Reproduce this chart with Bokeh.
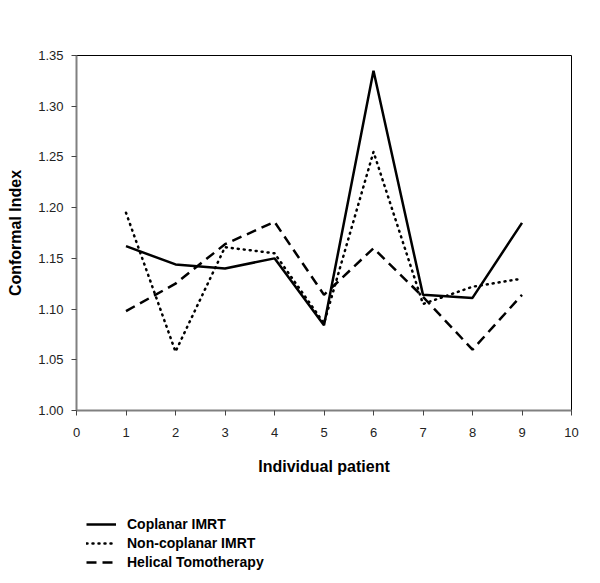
from bokeh.plotting import figure
from bokeh.layouts import column
from bokeh.models import Legend, LegendItem, Range1d, FixedTicker, CustomJSTickFormatter
from bokeh.embed import file_html
from bokeh.resources import INLINE

patients = [1, 2, 3, 4, 5, 6, 7, 8, 9]
coplanar = [1.162, 1.144, 1.140, 1.150, 1.084, 1.335, 1.114, 1.111, 1.185]
noncoplanar = [1.195, 1.058, 1.161, 1.155, 1.086, 1.255, 1.105, 1.122, 1.130]
helical = [1.098, 1.125, 1.164, 1.186, 1.114, 1.160, 1.112, 1.060, 1.114]
series_names = ["Coplanar IMRT", "Non-coplanar IMRT", "Helical Tomotherapy"]
x_ticks = [0, 1, 2, 3, 4, 5, 6, 7, 8, 9, 10]
y_ticks = [1.00, 1.05, 1.10, 1.15, 1.20, 1.25, 1.30, 1.35]

FONT = "Liberation Sans"
STYLES = [dict(line_color="black", line_width=2.5),
          dict(line_color="black", line_width=2.5, line_dash="1 5", line_cap="round"),
          dict(line_color="black", line_width=2.5, line_dash="10 6")]

p = figure(width=592, height=478, output_backend="svg", toolbar_location=None,
           x_range=Range1d(0, 10), y_range=Range1d(1.0, 1.35),
           min_border_left=76, min_border_top=55, min_border_right=21,
           min_border_bottom=68)

p.xgrid.visible = False
p.ygrid.visible = False
p.outline_line_color = "black"
p.outline_line_width = 1

for ax in (p.xaxis[0], p.yaxis[0]):
    ax.axis_line_color = "#808080"
    ax.axis_line_width = 2
    ax.major_tick_line_color = "#444444"
    ax.major_tick_out = 5
    ax.major_tick_in = 0
    ax.minor_tick_line_color = None
    ax.major_label_text_font = FONT
    ax.major_label_text_font_size = "13px"
    ax.major_label_text_color = "#222222"
    ax.axis_label_text_font = FONT
    ax.axis_label_text_font_size = "16px"
    ax.axis_label_text_font_style = "bold"
    ax.axis_label_text_color = "black"

p.xaxis.ticker = FixedTicker(ticks=x_ticks)
p.yaxis.ticker = FixedTicker(ticks=y_ticks)
p.yaxis.formatter = CustomJSTickFormatter(code="return tick.toFixed(2);")
p.xaxis.axis_label = "Individual patient"
p.yaxis.axis_label = "Conformal Index"
p.xaxis.major_label_standoff = 12
p.xaxis.axis_label_standoff = 18
p.yaxis.major_label_standoff = 8
p.yaxis.axis_label_standoff = 11

for ys, st in zip([coplanar, noncoplanar, helical], STYLES):
    p.line(patients, ys, **st)

# legend panel below the chart
lg = figure(width=592, height=97, output_backend="svg", toolbar_location=None,
            x_range=Range1d(0, 1), y_range=Range1d(0, 1),
            x_axis_location=None, y_axis_location=None,
            min_border_left=0, min_border_right=0, min_border_top=0, min_border_bottom=0)
lg.outline_line_color = None
lg.xgrid.visible = False
lg.ygrid.visible = False
items = []
for name, st in zip(series_names, STYLES):
    # placeholder renderer outside the visible range, only used for the legend glyph
    r = lg.line(x=[-5, -4], y=[-5, -4], **st)
    items.append(LegendItem(label=name, renderers=[r]))

legend = Legend(items=items, location=(10, 4))
legend.label_text_font = FONT
legend.label_text_font_size = "14px"
legend.label_text_font_style = "bold"
legend.label_text_color = "black"
legend.border_line_color = None
legend.background_fill_alpha = 0
legend.glyph_width = 30
legend.glyph_height = 18
legend.label_height = 18
legend.spacing = 1
legend.padding = 2
legend.margin = 0
legend.label_standoff = 11
lg.add_layout(legend, "center")

layout = column(p, lg, spacing=0)
open("out.html", "w").write(file_html(layout, INLINE))
